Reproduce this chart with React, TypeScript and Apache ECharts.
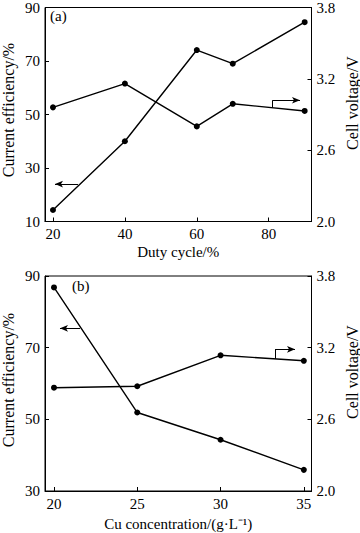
import React, { useEffect, useRef } from "react";
import * as echarts from "echarts";

// Panel (a): duty cycle
const dutyCycle = [20, 40, 60, 70, 90];
const effA = [14.3, 40, 74.1, 69, 84.5];
const voltA = [2.96, 3.16, 2.8, 2.99, 2.93];
const xTicksA = [20, 40, 60, 80];
const effTicksA = [10, 30, 50, 70, 90];

// Panel (b): Cu concentration
const cuConc = [20, 25, 30, 35];
const effB = [86.8, 51.9, 44.3, 35.9];
const voltB = [2.865, 2.877, 3.136, 3.09];
const xTicksB = [20, 25, 30, 35];
const effTicksB = [30, 50, 70, 90];

const voltTicks = [2.0, 2.6, 3.2, 3.8];

// annotation arrows (data coordinates)
const arrowEffA = [[26.95, 24], [20.56, 24]];
const arrowVoltA = [[81.1, 2.957], [81.1, 3.02], [88.7, 3.02]];
const arrowEffB = [[21.56, 75.4], [20.36, 75.4]];
const arrowVoltB = [[33.27, 3.106], [33.27, 3.186], [34.47, 3.186]];

const FONT = "Liberation Serif";

function xAxisCfg(grid: number, min: number, max: number, ticks: number[], name: string, gap: number) {
  return {
    type: "value",
    gridIndex: grid,
    min,
    max,
    name,
    nameLocation: "middle",
    nameGap: gap,
    nameTextStyle: { fontFamily: FONT, fontSize: 15, color: "#000" },
    axisLine: { show: true, lineStyle: { color: "#000", width: 1 } },
    axisTick: { show: true, inside: true, length: 4, customValues: ticks, lineStyle: { color: "#000" } },
    axisLabel: { customValues: ticks, fontFamily: FONT, fontSize: 15, color: "#000", margin: 5 },
    splitLine: { show: false },
  };
}

function yAxisCfg(grid: number, pos: string, min: number, max: number, ticks: number[], digits: number) {
  return {
    type: "value",
    gridIndex: grid,
    position: pos,
    min,
    max,
    axisLine: { show: true, onZero: false, lineStyle: { color: "#000", width: 1 } },
    axisTick: { show: true, inside: true, length: 4, customValues: ticks, lineStyle: { color: "#000" } },
    axisLabel: {
      customValues: ticks,
      fontFamily: FONT,
      fontSize: 15,
      color: "#000",
      margin: 5,
      formatter: (v: number) => v.toFixed(digits),
    },
    splitLine: { show: false },
  };
}

function arrowLines(pts: number[][]) {
  const data: any[] = [];
  for (let i = 0; i < pts.length - 1; i++) {
    const last = i === pts.length - 2;
    data.push([
      { coord: pts[i], symbol: "none" },
      { coord: pts[i + 1], symbol: last ? "arrow" : "none", symbolSize: last ? [5, 8] : 0 },
    ]);
  }
  return {
    silent: true,
    animation: false,
    label: { show: false },
    lineStyle: { color: "#000", width: 1, type: "solid" },
    emphasis: { disabled: true },
    data,
  };
}

function lineSeries(x: number[], y: number[], xi: number, yi: number, arrow: number[][]) {
  return {
    type: "line",
    xAxisIndex: xi,
    yAxisIndex: yi,
    data: x.map((v, i) => [v, y[i]]),
    symbol: "circle",
    symbolSize: 6,
    itemStyle: { color: "#000" },
    lineStyle: { color: "#000", width: 1.4 },
    markLine: arrowLines(arrow),
  };
}

function yName(text: string, x: number, y: number, rot: number) {
  return {
    type: "text",
    x,
    y,
    rotation: rot,
    style: {
      text,
      fontFamily: FONT,
      fontSize: 16,
      fill: "#000",
      align: "center",
      verticalAlign: "middle",
    },
  };
}

export default function App() {
  const ref = useRef<HTMLDivElement>(null);
  useEffect(() => {
    if (!ref.current) return;
    const chart = echarts.init(ref.current, undefined, { renderer: "svg" });
    chart.setOption({
      animation: false,
      backgroundColor: "#fff",
      grid: [
        { left: 45, right: 48.5, top: 5.5, height: 216, show: true, borderColor: "#000", borderWidth: 1 },
        { left: 45, right: 48.5, top: 276, height: 215, show: true, borderColor: "#000", borderWidth: 1 },
      ],
      xAxis: [
        xAxisCfg(0, 17.78, 91.9, xTicksA, "Duty cycle/%", 23),
        xAxisCfg(1, 19.46, 35.46, xTicksB, "Cu concentration/(g\u00B7L\u207B\u00B9)", 25),
      ],
      yAxis: [
        yAxisCfg(0, "left", 10, 90, effTicksA, 0),
        yAxisCfg(0, "right", 2.0, 3.8, voltTicks, 1),
        yAxisCfg(1, "left", 30, 90, effTicksB, 0),
        yAxisCfg(1, "right", 2.0, 3.8, voltTicks, 1),
      ],
      series: [
        lineSeries(dutyCycle, effA, 0, 0, arrowEffA),
        lineSeries(dutyCycle, voltA, 0, 1, arrowVoltA),
        lineSeries(cuConc, effB, 1, 2, arrowEffB),
        lineSeries(cuConc, voltB, 1, 3, arrowVoltB),
      ],
      graphic: [
        { type: "text", left: 50, top: 8, style: { text: "(a)", fontFamily: FONT, fontSize: 15, fill: "#000" } },
        { type: "text", left: 72, top: 278, style: { text: "(b)", fontFamily: FONT, fontSize: 15, fill: "#000" } },
        yName("Current efficiency/%", 8, 110, Math.PI / 2),
        yName("Cell voltage/V", 352, 103, Math.PI / 2),
        yName("Current efficiency/%", 8, 380, Math.PI / 2),
        yName("Cell voltage/V", 352, 372, Math.PI / 2),
      ],
    });
    return () => chart.dispose();
  }, []);
  return (
    <div
      ref={ref}
      style={{ position: "fixed", left: 0, top: 0, width: 360, height: 533, background: "#fff" }}
    />
  );
}
